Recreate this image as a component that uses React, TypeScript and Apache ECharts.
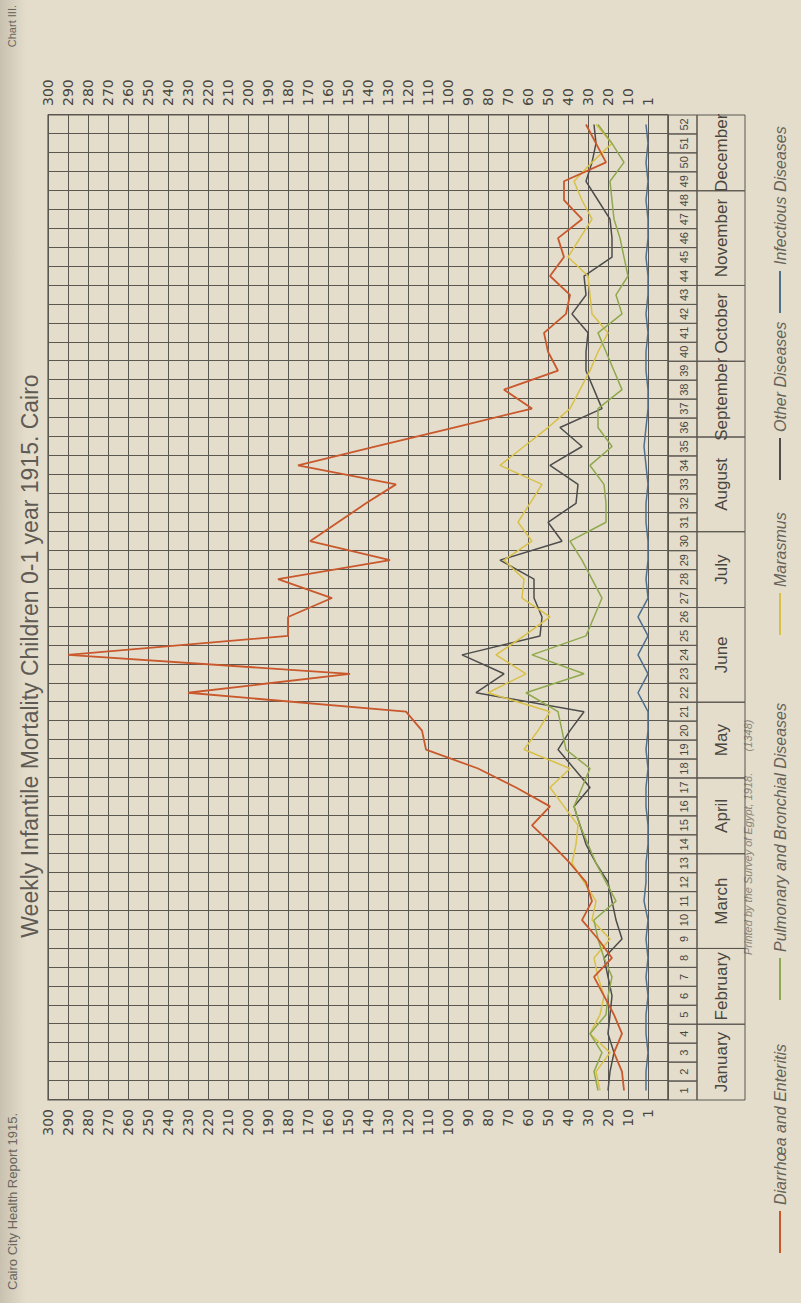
import React, { useEffect, useRef } from "react";
import * as echarts from "echarts";

const weeks = ["1","2","3","4","5","6","7","8","9","10","11","12","13","14","15","16","17","18","19","20","21","22","23","24","25","26","27","28","29","30","31","32","33","34","35","36","37","38","39","40","41","42","43","44","45","46","47","48","49","50","51","52"];

const months = ["January","February","March","April","May","June","July","August","September","October","November","December"];
const monthFirstWeek = [1, 5, 9, 14, 18, 22, 27, 31, 36, 40, 44, 49];
const monthLastWeek = [4, 8, 13, 17, 21, 26, 30, 35, 39, 43, 48, 52];

const valueTicks = ["1","10","20","30","40","50","60","70","80","90","100","110","120","130","140","150","160","170","180","190","200","210","220","230","240","250","260","270","280","290","300"];

const diarrhoea = [12,13,17,13,17,22,27,18,25,33,28,31,39,48,58,49,66,85,111,113,121,230,149,290,180,180,158,185,129,169,155,141,126,175,136,97,58,72,45,50,52,41,39,49,42,45,33,42,42,21,26,31];
const pulmonary = [25,27,23,29,21,20,18,22,25,27,16,21,26,30,34,37,33,29,41,43,45,61,32,58,31,27,23,28,33,39,21,21,22,29,18,25,25,13,17,21,25,13,16,10,12,14,17,18,19,12,18,25];
const marasmus = [24,26,19,29,24,22,25,27,19,28,26,32,38,36,35,42,49,39,62,55,49,80,61,76,62,49,63,62,72,58,65,59,53,74,62,50,39,34,29,25,20,28,29,30,40,34,28,33,37,28,18,26];
const other = [20,19,17,20,19,18,20,22,13,16,18,20,26,31,34,37,29,37,45,39,32,86,72,93,54,53,57,57,74,43,50,36,35,49,33,44,23,27,31,31,30,38,31,32,18,18,19,25,31,28,26,27];
const infectious = [1,1,0,1,1,0,1,0,1,0,2,1,1,0,0,1,1,0,1,0,0,5,0,5,0,5,0,1,0,0,1,1,0,1,2,1,0,0,1,1,0,1,0,0,1,0,0,1,0,1,0,1];

const seriesNames = ["Diarrhœa and Enteritis","Pulmonary and Bronchial Diseases","Marasmus","Other Diseases","Infectious Diseases"];
const seriesColors = ["#c9582c","#8fa94e","#d9c046","#4d4d4d","#4e6f8e"];

const W = 1303;
const H = 801;
const GRID_LEFT = 203;
const GRID_RIGHT = 115;
const GRID_TOP = 48;
const GRID_HEIGHT = 620;
const WEEK_ROW = 29;
const MONTH_ROW = 48;

export default function App() {
  const ref = useRef<HTMLDivElement | null>(null);

  useEffect(() => {
    if (!ref.current) return;
    const chart = echarts.init(ref.current, null, { renderer: "svg", width: W, height: H });
    const lineColor = "#5a5650";
    const labelFmt = (v: number) => (v < 0 ? "" : valueTicks[Math.round(v / 10)]);
    const datasets = [diarrhoea, pulmonary, marasmus, other, infectious];

    const lineSeries = datasets.map((d, i) => ({
      name: seriesNames[i],
      type: "line",
      data: d,
      symbol: "none",
      smooth: false,
      z: 10 - i,
      lineStyle: { color: seriesColors[i], width: i === 0 ? 1.8 : 1.5 },
      itemStyle: { color: seriesColors[i] },
    }));

    const weekCells = {
      type: "custom",
      silent: true,
      clip: false,
      z: 5,
      data: weeks.map((w, i) => [i, -10]),
      renderItem: (params: any, api: any) => {
        const idx = api.value(0);
        const p = api.coord([idx, -10]);
        const bw = api.size([1, 0])[0];
        return {
          type: "group",
          children: [
            { type: "rect", shape: { x: p[0] - bw / 2, y: p[1], width: bw, height: WEEK_ROW }, style: { fill: "none", stroke: lineColor, lineWidth: 1 } },
            { type: "text", style: { text: weeks[idx], x: p[0], y: p[1] + WEEK_ROW / 2 + 1, align: "center", verticalAlign: "middle", fontSize: 11, fontFamily: "Liberation Sans", fill: "#4a4640" } },
          ],
        };
      },
    };

    const monthCells = {
      type: "custom",
      silent: true,
      clip: false,
      z: 5,
      data: months.map((m, i) => [monthFirstWeek[i] - 1, monthLastWeek[i] - 1, i]),
      renderItem: (params: any, api: any) => {
        const a = api.value(0);
        const b = api.value(1);
        const mi = api.value(2);
        const pa = api.coord([a, -10]);
        const pb = api.coord([b, -10]);
        const bw = api.size([1, 0])[0];
        const x0 = pa[0] - bw / 2;
        const x1 = pb[0] + bw / 2;
        const y0 = pa[1] + WEEK_ROW;
        return {
          type: "group",
          children: [
            { type: "rect", shape: { x: x0, y: y0, width: x1 - x0, height: MONTH_ROW }, style: { fill: "none", stroke: lineColor, lineWidth: 1 } },
            { type: "text", style: { text: months[mi], x: (x0 + x1) / 2, y: y0 + MONTH_ROW / 2, align: "center", verticalAlign: "middle", fontSize: 17, fontFamily: "Liberation Sans", fill: "#4a4640" } },
          ],
        };
      },
    };

    const valueAxis = (pos: "left" | "right", split: boolean) => ({
      type: "value",
      position: pos,
      min: -10,
      max: 300,
      interval: 10,
      axisLine: { show: false },
      axisTick: { show: false },
      axisLabel: { formatter: labelFmt, fontSize: 14, fontFamily: "DejaVu Sans", color: "#4a4640", margin: 9 },
      splitLine: { show: split, lineStyle: { color: lineColor, width: 1 } },
    });

    const legendY = 780;
    const legendItems = [
      { x: 50, name: seriesNames[0], color: seriesColors[0] },
      { x: 303, name: seriesNames[1], color: seriesColors[1] },
      { x: 668, name: seriesNames[2], color: seriesColors[2] },
      { x: 823, name: seriesNames[3], color: seriesColors[3] },
      { x: 990, name: seriesNames[4], color: seriesColors[4] },
    ];
    const legendGraphics: any[] = [];
    legendItems.forEach((it) => {
      legendGraphics.push({ type: "line", silent: true, shape: { x1: it.x, y1: legendY, x2: it.x + 42, y2: legendY }, style: { stroke: it.color, lineWidth: 2 } });
      legendGraphics.push({ type: "text", silent: true, x: it.x + 48, y: legendY, style: { text: it.name, fontSize: 16, fontStyle: "italic", fontFamily: "Liberation Sans", fill: "#67635a", verticalAlign: "middle" } });
    });

    chart.setOption({
      animation: false,
      backgroundColor: "#e4ddcb",
      grid: { left: GRID_LEFT, right: GRID_RIGHT, top: GRID_TOP, height: GRID_HEIGHT, show: true, borderColor: lineColor, borderWidth: 1.2, backgroundColor: "transparent" },
      xAxis: {
        type: "category",
        data: weeks,
        boundaryGap: true,
        axisLine: { show: false },
        axisTick: { show: false },
        axisLabel: { show: false },
        splitLine: { show: true, interval: 0, lineStyle: { color: lineColor, width: 1 } },
      },
      yAxis: [valueAxis("left", true), valueAxis("right", false)],
      graphic: [
        {
          type: "rect",
          silent: true,
          z: -1,
          shape: { x: 0, y: 0, width: W, height: 26 },
          style: {
            fill: new echarts.graphic.LinearGradient(0, 0, 0, 1, [
              { offset: 0, color: "rgba(150,142,125,0.35)" },
              { offset: 1, color: "rgba(150,142,125,0)" },
            ]),
          },
        },
        { type: "text", x: 647, y: 30, style: { text: "Weekly Infantile Mortality Children 0-1 year 1915. Cairo", fontSize: 23, fontFamily: "Liberation Sans", fill: "#5f5b54", align: "center", verticalAlign: "middle" } },
        { type: "text", x: 13, y: 12, style: { text: "Cairo City Health Report 1915.", fontSize: 13, fontFamily: "Liberation Sans", fill: "#6a665e", verticalAlign: "middle" } },
        { type: "text", x: 1298, y: 12, style: { text: "Chart III.", fontSize: 11, fontFamily: "Liberation Sans", fill: "#6a665e", align: "right", verticalAlign: "middle" } },
        { type: "text", x: 348, y: 748, style: { text: "Printed by the Survey of Egypt, 1918.       (1348)", fontSize: 11, fontStyle: "italic", fontFamily: "Liberation Sans", fill: "#8a867e", verticalAlign: "middle" } },
        ...legendGraphics,
      ],
      series: [...lineSeries, weekCells, monthCells],
    });
    return () => chart.dispose();
  }, []);

  return (
    <div style={{ position: "absolute", left: 0, top: 0, width: 801, height: 1303, overflow: "hidden", background: "#e4ddcb" }}>
      <div
        ref={ref}
        style={{ position: "absolute", left: 0, top: 0, width: W, height: H, transformOrigin: "0 0", transform: "translateY(1303px) rotate(-90deg)" }}
      />
    </div>
  );
}
